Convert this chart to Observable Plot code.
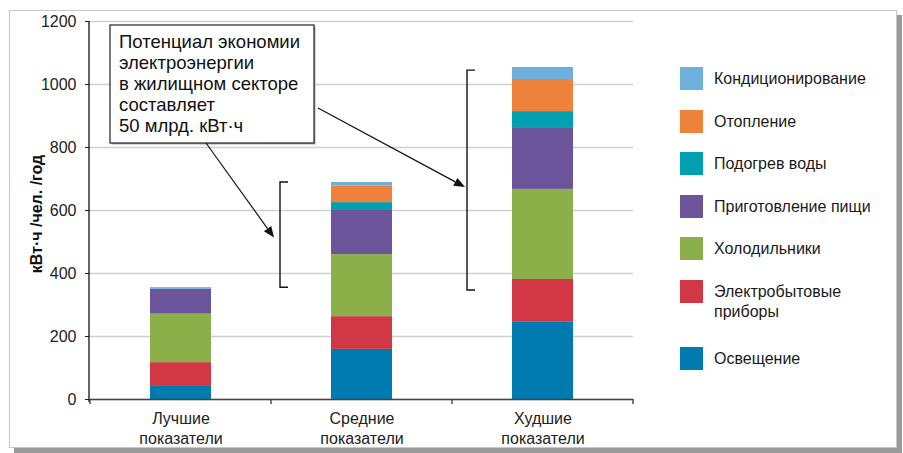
<!DOCTYPE html>
<html><head><meta charset="utf-8">
<script src="https://cdn.jsdelivr.net/npm/d3@7"></script>
<script src="https://cdn.jsdelivr.net/npm/@observablehq/plot@0.6"></script>
<style>
body{margin:0;width:903px;height:453px;background:#fff;font-family:"Liberation Sans",Arial,sans-serif;overflow:hidden}
#wrap{position:relative;width:903px;height:453px}
#frame{position:absolute;left:9px;top:10px;width:886px;height:436px;border:1px solid #c8c8c8;box-shadow:5px 5px 0 #9a9a9a;background:#fff}
#chart{position:absolute;left:0;top:0}
#legend{position:absolute;left:0;top:0}
.li{position:absolute;left:680px;font-size:16px;color:#1a1a1a;line-height:20px}
.sw{position:absolute;left:0;top:0;width:23px;height:23px}
.lt{position:absolute;left:34px;white-space:nowrap}
</style></head><body>
<div id="wrap"><div id="frame"></div><div id="chart"></div><div id="legend"></div></div>
<script>
const categories = ["Лучшие\nпоказатели", "Средние\nпоказатели", "Худшие\nпоказатели"];
const series = ["Освещение", "Электробытовые приборы", "Холодильники", "Приготовление пищи", "Подогрев воды", "Отопление", "Кондиционирование"];
const legendLabels = ["Освещение", "Электробытовые\nприборы", "Холодильники", "Приготовление пищи", "Подогрев воды", "Отопление", "Кондиционирование"];
const colors = ["#007bb0", "#d13744", "#8bb04a", "#6b5499", "#00a0b0", "#ee823a", "#6fafdc"];
const lighting   = [44, 159, 245];
const appliances = [73, 104, 136];
const fridges    = [154, 197, 286];
const cooking    = [79, 140, 196];
const water      = [0, 25, 51];
const heating    = [0, 52, 102];
const cooling    = [5, 12, 38];
const yTicks = [0, 200, 400, 600, 800, 1000, 1200];
const yTitle = "кВт·ч /чел. /год";
const noteLines = ["Потенциал экономии", "электроэнергии", "в жилищном секторе", "составляет", "50 млрд. кВт·ч"];

const values = [lighting, appliances, fridges, cooking, water, heating, cooling];
const data = [];
categories.forEach((c, i) => series.forEach((s, j) => data.push({cat: c, series: s, value: values[j][i]})));
const totals = categories.map((c, i) => d3.sum(values, v => v[i]));

const plot = Plot.plot({
  width: 903, height: 453,
  marginLeft: 89, marginRight: 270, marginTop: 21, marginBottom: 54,
  style: {fontFamily: '"Liberation Sans", Arial, sans-serif', fontSize: "16px", color: "#222", background: "transparent", overflow: "visible"},
  x: {domain: categories, paddingInner: 0.663, paddingOuter: 0.3315, label: null},
  y: {domain: [0, 1200], label: null},
  color: {domain: series, range: colors},
  marks: [
    Plot.gridY(yTicks, {stroke: "#cfcfcf", strokeOpacity: 1, strokeWidth: 1.5}),
    Plot.barY(data, {x: "cat", y: "value", fill: "series", order: series}),
    Plot.ruleY([0], {stroke: "#444", strokeWidth: 1.6}),
    Plot.axisY(yTicks, {tickSize: 4, tickPadding: 9, label: null, stroke: "#222", fill: "#222", tickFormat: d => String(d)}),
    Plot.axisX({tickSize: 0, tickPadding: 10, label: null, lineHeight: 1.25, fill: "#222"})
  ]
});
document.getElementById("chart").appendChild(plot);

const svg = d3.select(plot);
const xs = plot.scale("x"), ys = plot.scale("y");
const bw = xs.bandwidth, step = xs.step;
const pLeft = 89, pBottom = ys.apply(0), pTop = ys.apply(1200);
const g = svg.append("g").attr("text-anchor", "start");
g.append("line").attr("x1", pLeft).attr("x2", pLeft).attr("y1", pTop).attr("y2", pBottom + 3).attr("stroke", "#111").attr("stroke-width", 1.3);
categories.forEach((c, i) => {
  const x0 = xs.apply(c) - (step - bw) / 2;
  g.append("line").attr("x1", x0).attr("x2", x0).attr("y1", pBottom).attr("y2", pBottom + 5).attr("stroke", "#444").attr("stroke-width", 1.4);
  if (i === categories.length - 1) {
    const x1 = x0 + step;
    g.append("line").attr("x1", x1).attr("x2", x1).attr("y1", pBottom).attr("y2", pBottom + 5).attr("stroke", "#444").attr("stroke-width", 1.4);
  }
});
g.append("text").attr("transform", `translate(38,${(pTop + pBottom) / 2 + 4}) rotate(-90)`)
  .attr("text-anchor", "middle").attr("dominant-baseline", "middle")
  .attr("font-weight", "bold").attr("font-size", "16px").attr("fill", "#111").text(yTitle);

function bracket(x, v1, v2) {
  const y1 = ys.apply(v1), y2 = ys.apply(v2);
  g.append("path").attr("d", `M${x + 8},${y1}H${x}V${y2}H${x + 8}`).attr("fill", "none").attr("stroke", "#111").attr("stroke-width", 1.4);
  return (y1 + y2) / 2;
}
const bx1 = xs.apply(categories[1]) - 51;
const bx2 = xs.apply(categories[2]) - 45;
const m1 = bracket(bx1, totals[1], totals[0]);
const m2 = bracket(bx2, totals[2] - 10, totals[0] - 9);

function arrow(x1, y1, x2, y2) {
  const a = Math.atan2(y2 - y1, x2 - x1), L = 11, W = 4.5;
  const bx = x2 - L * Math.cos(a), by = y2 - L * Math.sin(a);
  g.append("line").attr("x1", x1).attr("y1", y1).attr("x2", bx).attr("y2", by).attr("stroke", "#111").attr("stroke-width", 1.2);
  g.append("path").attr("d", `M${x2},${y2}L${bx - W * Math.sin(a)},${by + W * Math.cos(a)}L${bx + W * Math.sin(a)},${by - W * Math.cos(a)}Z`).attr("fill", "#111");
}
const box = {x: 110, y: 25, w: 204, h: 118};
g.append("rect").attr("x", box.x + 1.5).attr("y", box.y + 1.5).attr("width", box.w).attr("height", box.h).attr("fill", "#aaa");
g.append("rect").attr("x", box.x).attr("y", box.y).attr("width", box.w).attr("height", box.h).attr("fill", "#fff").attr("stroke", "#222").attr("stroke-width", 1.2);
noteLines.forEach((t, i) => g.append("text").attr("x", box.x + 9).attr("y", box.y + 23 + i * 21).attr("text-anchor", "start").attr("font-size", "18.5px").attr("fill", "#111").text(t));
arrow(206, box.y + box.h, bx1 - 6, m1 + 3);
arrow(box.x + box.w + 4, 108, bx2 - 2, m2 + 7);

const leg = document.getElementById("legend");
const itemTops = [347, 280, 237, 195, 152, 110, 67];
series.forEach((s, j) => {
  const d = document.createElement("div");
  d.className = "li"; d.style.top = itemTops[j] + "px";
  d.innerHTML = `<div class="sw" style="background:${colors[j]}"></div><div class="lt" style="top:2px">${legendLabels[j].replace("\n", "<br>")}</div>`;
  leg.appendChild(d);
});
</script>
</body></html>
